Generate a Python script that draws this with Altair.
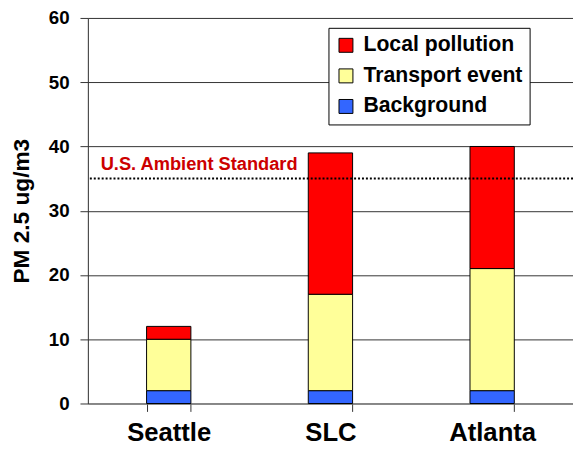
import altair as alt
import pandas as pd

cities = ["Seattle", "SLC", "Atlanta"]
components = ["Background", "Transport event", "Local pollution"]
background = [2, 2, 2]
transport = [8, 15, 19]
local = [2, 22, 19]
legend_order = ["Local pollution", "Transport event", "Background"]
legend_colors = ["#ff0000", "#ffff99", "#3366ff"]
y_ticks = [0, 10, 20, 30, 40, 50, 60]
standard = [35]
standard_label = ["U.S. Ambient Standard"]
label_level = [36.4]

rows = []
for i, c in enumerate(cities):
    for j, (comp, vals) in enumerate(zip(components, [background, transport, local])):
        rows.append({"city": c, "component": comp, "value": vals[i], "order": j})
df = pd.DataFrame(rows)

W, H = 492, 391
FONT = "Liberation Sans"

bars = alt.Chart(df).mark_bar(stroke="black", strokeWidth=1).encode(
    x=alt.X(
        "city:N", sort=cities,
        scale=alt.Scale(paddingInner=0.726, paddingOuter=0.363),
        axis=alt.Axis(
            title=None, labelAngle=0, labelFont=FONT, labelFontSize=26,
            labelFontWeight="bold", labelColor="black", labelPadding=9,
            tickSize=8, tickBand="extent", tickColor="#333333",
            domainColor="#808080", grid=False,
        ),
    ),
    y=alt.Y(
        "value:Q", stack="zero",
        scale=alt.Scale(domain=[0, 60], nice=False),
        axis=alt.Axis(
            values=y_ticks, title="PM 2.5 ug/m3", titleFont=FONT,
            titleFontSize=23, titleFontWeight="bold", titleColor="black",
            titlePadding=15, labelFont=FONT, labelFontSize=19,
            labelFontWeight="bold", labelColor="black", labelPadding=11,
            tickSize=8, tickColor="#333333", domainColor="#333333",
            gridColor="#333333", gridWidth=1,
        ),
    ),
    color=alt.Color(
        "component:N",
        scale=alt.Scale(domain=legend_order, range=legend_colors),
        legend=alt.Legend(
            title=None, orient="none", legendX=244, legendY=10,
            fillColor="white", strokeColor="black", padding=7,
            symbolType="square", symbolSize=200, symbolStrokeColor="black",
            symbolStrokeWidth=1, symbolOpacity=1, labelFont=FONT,
            labelFontSize=21.5, labelFontWeight="bold", labelColor="black",
            labelOffset=7, rowPadding=8, cornerRadius=0, labelLimit=400,
        ),
    ),
    order=alt.Order("order:Q"),
)

std_df = pd.DataFrame({"y": standard})
rule = alt.Chart(std_df).mark_rule(
    color="black", strokeWidth=2, strokeDash=[2, 2]
).encode(y="y:Q")

lab_df = pd.DataFrame({"y": label_level, "text": standard_label})
label = alt.Chart(lab_df).mark_text(
    align="left", baseline="alphabetic", color="#cc0000", fontSize=18.5,
    fontWeight="bold", font=FONT,
).encode(y="y:Q", x=alt.value(13), text="text:N")

chart = alt.layer(bars, rule, label).properties(
    width=W, height=H,
    autosize=alt.AutoSizeParams(type="none"),
    padding={"left": 81, "top": 7, "right": 0, "bottom": 40},
).configure_view(fill="#ccffff", stroke=None).configure(background="white")

chart.save("out.html", embed_options={"renderer": "svg", "actions": False})
